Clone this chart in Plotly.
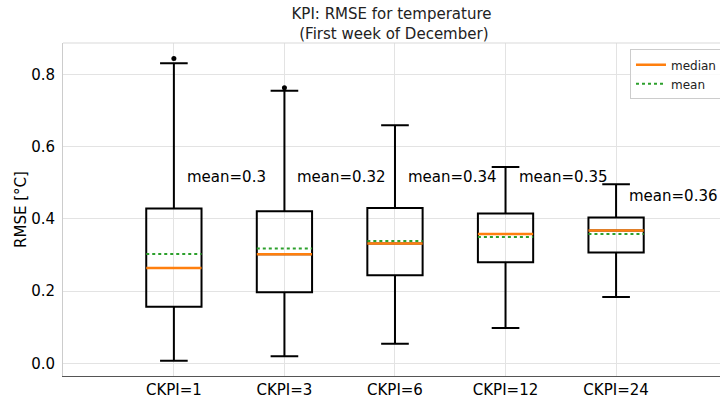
import plotly.graph_objects as go

# ---- data ----
categories = ["CKPI=1", "CKPI=3", "CKPI=6", "CKPI=12", "CKPI=24"]
lower_whisker = [0.007, 0.020, 0.054, 0.098, 0.184]
q1 = [0.157, 0.197, 0.244, 0.280, 0.307]
medians = [0.264, 0.302, 0.332, 0.358, 0.368]
q3 = [0.429, 0.421, 0.430, 0.415, 0.404]
upper_whisker = [0.831, 0.755, 0.659, 0.544, 0.496]
means = [0.303, 0.318, 0.339, 0.350, 0.358]
outlier_cat = ["CKPI=1", "CKPI=3"]
outlier_val = [0.844, 0.763]

# layout constants
positions = list(range(1, len(categories) + 1))
pos_of = dict(zip(categories, positions))
label_y = [0.515, 0.515, 0.515, 0.515, 0.463]
half_w = 0.25
FONT = "DejaVu Sans"

fig = go.Figure()

fig.add_trace(go.Box(
    x=positions, q1=q1, median=medians, q3=q3,
    lowerfence=lower_whisker, upperfence=upper_whisker,
    width=2 * half_w, whiskerwidth=0.5,
    line=dict(color="black", width=2), fillcolor="rgba(0,0,0,0)",
    boxpoints=False, showlegend=False, hoverinfo="skip",
))

fig.add_trace(go.Scatter(
    x=[pos_of[c] for c in outlier_cat], y=outlier_val, mode="markers",
    marker=dict(color="black", size=5), showlegend=False, hoverinfo="skip",
))

mx, my, ax, ay = [], [], [], []
for p, m, a in zip(positions, medians, means):
    mx += [p - half_w, p + half_w, None]
    my += [m, m, None]
    ax += [p - half_w, p + half_w, None]
    ay += [a, a, None]

fig.add_trace(go.Scatter(x=mx, y=my, mode="lines", name="median",
                         line=dict(color="#ff7f0e", width=2.5)))
fig.add_trace(go.Scatter(x=ax, y=ay, mode="lines", name="mean",
                         line=dict(color="#2ca02c", width=2, dash="dot")))

for p, a, ly in zip(positions, means, label_y):
    fig.add_annotation(x=p + 0.1, y=ly, xref="x", yref="y",
                       text=f"mean={round(a, 2)}", showarrow=False,
                       xanchor="left", yanchor="middle",
                       font=dict(family=FONT, size=15, color="black"))

fig.add_shape(type="line", xref="paper", yref="paper", x0=0, x1=1, y0=1, y1=1,
              line=dict(color="#d9d9d9", width=1))

fig.update_layout(
    width=720, height=400,
    margin=dict(l=63, r=0, t=43, b=24, autoexpand=False),
    paper_bgcolor="white", plot_bgcolor="white",
    font=dict(family=FONT, size=15, color="black"),
    title=dict(text="KPI: RMSE for temperature<br> (First week of December)",
               x=0.5, xref="paper", xanchor="center",
               y=0.952, yref="container", yanchor="top",
               font=dict(family=FONT, size=15, color="#222")),
    showlegend=True,
    legend=dict(x=0.863, y=0.981, xanchor="left", yanchor="top",
                bgcolor="rgba(255,255,255,0.8)", bordercolor="#cccccc",
                borderwidth=1, font=dict(family=FONT, size=12, color="#222"),
                tracegroupgap=0),
    xaxis=dict(range=[-0.003, 5.94], tickvals=positions, ticktext=categories,
               showgrid=True, gridcolor="#e3e3e3", gridwidth=1,
               showline=True, linecolor="#555555", linewidth=1.2,
               ticks="", zeroline=False, tickfont=dict(size=15)),
    yaxis=dict(range=[-0.035, 0.887], tickvals=[0, 0.2, 0.4, 0.6, 0.8],
               ticktext=["0.0", "0.2", "0.4", "0.6", "0.8"],
               showgrid=True, gridcolor="#e3e3e3", gridwidth=1,
               showline=True, linecolor="#cccccc", linewidth=1,
               ticks="outside", ticklen=4, tickcolor="white",
               zeroline=False, tickfont=dict(size=15),
               title=dict(text="RMSE [°C]", font=dict(size=15), standoff=0)),
)

fig.write_html("out.html")
